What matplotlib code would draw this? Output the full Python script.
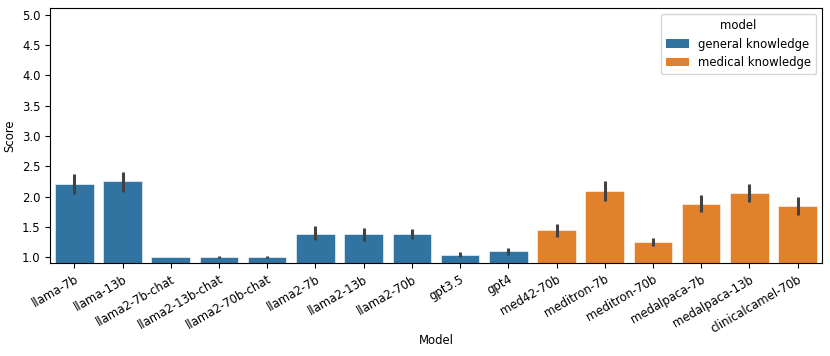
import matplotlib
matplotlib.use("Agg")
import matplotlib.pyplot as plt
from matplotlib.patches import Patch
import numpy as np

plt.rcParams["font.size"] = 8.4

models = ["llama-7b", "llama-13b", "llama2-7b-chat", "llama2-13b-chat", "llama2-70b-chat",
          "llama2-7b", "llama2-13b", "llama2-70b", "gpt3.5", "gpt4",
          "med42-70b", "meditron-7b", "meditron-70b", "medalpaca-7b", "medalpaca-13b",
          "clinicalcamel-70b"]
groups = ["general knowledge"] * 10 + ["medical knowledge"] * 6
means = [2.21, 2.26, 1.00, 1.01, 1.01, 1.39, 1.38, 1.38, 1.045, 1.10,
         1.445, 2.09, 1.25, 1.885, 2.06, 1.846]
ci_low = [2.05, 2.08, 1.00, 0.99, 0.99, 1.28, 1.27, 1.30, 1.01, 1.04,
          1.33, 1.93, 1.18, 1.74, 1.91, 1.69]
ci_high = [2.38, 2.41, 1.00, 1.03, 1.03, 1.51, 1.49, 1.46, 1.09, 1.15,
           1.55, 2.26, 1.32, 2.03, 2.21, 2.00]
group_names = ["general knowledge", "medical knowledge"]
group_colors = {"general knowledge": "#3274a1", "medical knowledge": "#e1812c"}

fig, ax = plt.subplots(figsize=(8.3, 3.56), dpi=100)
x = np.arange(len(models))
cols = [group_colors[g] for g in groups]
ax.bar(x, means, width=0.8, color=cols, edgecolor="white", linewidth=0.4)
ax.vlines(x, ci_low, ci_high, color="#424242", linewidth=2.2, zorder=3)

ax.set_xticks(x)
ax.set_xticklabels(models, rotation=30, ha="right", rotation_mode="anchor")
ax.set_xlim(-0.5, len(models) - 0.5)
ax.set_ylim(0.905, 5.11)
ax.set_yticks([1.0, 1.5, 2.0, 2.5, 3.0, 3.5, 4.0, 4.5, 5.0])
ax.set_xlabel("Model", labelpad=-1)
ax.set_ylabel("Score")

handles = [Patch(facecolor=group_colors[g], label=g) for g in group_names]
ax.legend(handles=handles, title="model", loc="upper right")

fig.subplots_adjust(left=0.0605, right=0.99, top=0.977, bottom=0.261)
fig.savefig("out.png", dpi=100)
